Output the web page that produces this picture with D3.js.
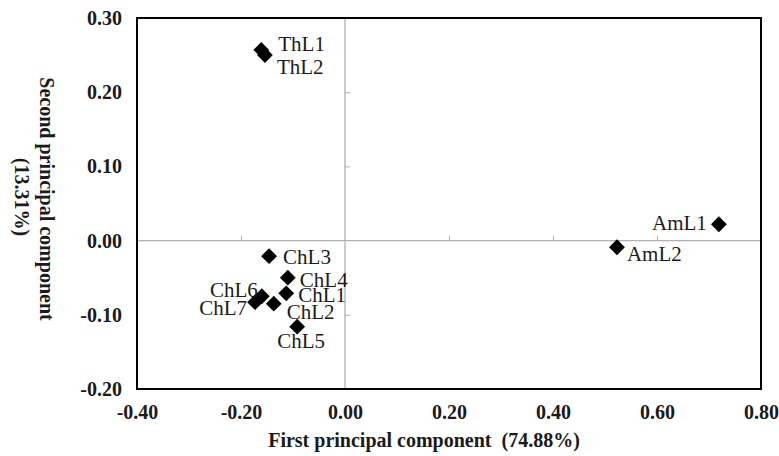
<!DOCTYPE html>
<html>
<head>
<meta charset="utf-8">
<script src="https://cdn.jsdelivr.net/npm/d3@7"></script>
<style>
  body { margin: 0; background: #fff; }
  svg text { font-family: "Liberation Serif", "DejaVu Serif", serif; }
</style>
</head>
<body>
<svg id="chart" width="779" height="456"></svg>
<script>
// PCA scores
const names = ['ThL1', 'ThL2', 'ChL3', 'ChL4', 'ChL1', 'ChL6', 'ChL7', 'ChL2', 'ChL5', 'AmL1', 'AmL2'];
const pc1 = [-0.161, -0.154, -0.146, -0.110, -0.113, -0.160, -0.173, -0.137, -0.092, 0.719, 0.523];
const pc2 = [0.257, 0.250, -0.021, -0.050, -0.071, -0.075, -0.083, -0.085, -0.116, 0.022, -0.009];
// label side and offsets (px) relative to the marker
const labelDx = [17, 12, 14, 12, 12, -4, -8, 13, -20, -12, 10];
const labelDy = [-6, 12, 0, 2, 1, -7, 5, 8, 14, -2, 6];
const labelAnchor = ['start', 'start', 'start', 'start', 'start', 'end', 'end', 'start', 'start', 'end', 'start'];

const xTicks = [-0.4, -0.2, 0, 0.2, 0.4, 0.6, 0.8];
const yTicks = [-0.2, -0.1, 0, 0.1, 0.2, 0.3];

const margin = { top: 18, right: 18, bottom: 67, left: 137 };
const W = 779, H = 456;
const w = W - margin.left - margin.right;
const h = H - margin.top - margin.bottom;

const svg = d3.select('#chart');
const g = svg.append('g').attr('transform', `translate(${margin.left},${margin.top})`);

const x = d3.scaleLinear().domain([-0.4, 0.8]).range([0, w]);
const y = d3.scaleLinear().domain([-0.2, 0.3]).range([h, 0]);
const fmt = d => d3.format('.2f')(d).replace('\u2212', '-');

// zero lines with small ticks (gray)
g.append('line').attr('x1', 0).attr('x2', w).attr('y1', y(0)).attr('y2', y(0))
  .attr('stroke', '#b0b0b0').attr('stroke-width', 1.3);
g.append('line').attr('x1', x(0)).attr('x2', x(0)).attr('y1', 0).attr('y2', h)
  .attr('stroke', '#b0b0b0').attr('stroke-width', 1.3);

const xZero = g.append('g').attr('transform', `translate(0,${y(0)})`)
  .call(d3.axisTop(x).tickValues(xTicks.filter(v => v > -0.4 && v < 0.8 && v !== 0)).tickSize(5).tickFormat(''));
xZero.select('.domain').remove();
xZero.selectAll('line').attr('stroke', '#b0b0b0');

const yZero = g.append('g').attr('transform', `translate(${x(0)},0)`)
  .call(d3.axisRight(y).tickValues(yTicks.filter(v => v > -0.2 && v < 0.3 && v !== 0)).tickSize(5).tickFormat(''));
yZero.select('.domain').remove();
yZero.selectAll('line').attr('stroke', '#b0b0b0');

// frame
g.append('rect').attr('x', 0).attr('y', 0).attr('width', w).attr('height', h)
  .attr('fill', 'none').attr('stroke', '#000').attr('stroke-width', 2);

// tick labels
const xAx = g.append('g').attr('transform', `translate(0,${h})`)
  .call(d3.axisBottom(x).tickValues(xTicks).tickSize(0).tickPadding(16).tickFormat(fmt));
xAx.select('.domain').remove();
xAx.attr('font-size', 20).attr('font-family', '"Liberation Serif", serif');
xAx.selectAll('text').attr('font-weight', 'bold').attr('fill', '#1a1a1a');

const yAx = g.append('g')
  .call(d3.axisLeft(y).tickValues(yTicks).tickSize(0).tickPadding(15).tickFormat(fmt));
yAx.select('.domain').remove();
yAx.attr('font-size', 20).attr('font-family', '"Liberation Serif", serif');
yAx.selectAll('text').attr('font-weight', 'bold').attr('fill', '#1a1a1a');

// points
const pts = names.map((n, i) => ({ name: n, x: pc1[i], y: pc2[i], dx: labelDx[i], dy: labelDy[i], anchor: labelAnchor[i] }));
const diamond = d3.symbol().type(d3.symbolSquare).size(125);
g.selectAll('.pt').data(pts).enter().append('path')
  .attr('class', 'pt')
  .attr('d', diamond)
  .attr('transform', d => `translate(${x(d.x)},${y(d.y)}) rotate(45)`)
  .attr('fill', '#000');

g.selectAll('.lbl').data(pts).enter().append('text')
  .attr('class', 'lbl')
  .attr('x', d => x(d.x) + d.dx)
  .attr('y', d => y(d.y) + d.dy)
  .attr('dy', '0.35em')
  .attr('text-anchor', d => d.anchor)
  .attr('font-size', 21)
  .attr('fill', '#1a1a1a')
  .text(d => d.name);

// axis titles
svg.append('text').attr('x', 424).attr('y', 447).attr('text-anchor', 'middle')
  .attr('font-size', 20).attr('font-weight', 'bold').attr('fill', '#1a1a1a')
  .attr('xml:space', 'preserve')
  .text('First principal component  (74.88%)');

const yt = svg.append('g').attr('transform', 'translate(47,199) rotate(90)');
yt.append('text').attr('x', 0).attr('y', 0).attr('dy', '0.35em').attr('text-anchor', 'middle')
  .attr('font-size', 20).attr('font-weight', 'bold').attr('fill', '#1a1a1a')
  .text('Second principal component');
yt.append('text').attr('x', -2).attr('y', 25).attr('dy', '0.35em').attr('text-anchor', 'middle')
  .attr('font-size', 20).attr('font-weight', 'bold').attr('fill', '#1a1a1a')
  .text('(13.31%)');
</script>
</body>
</html>
